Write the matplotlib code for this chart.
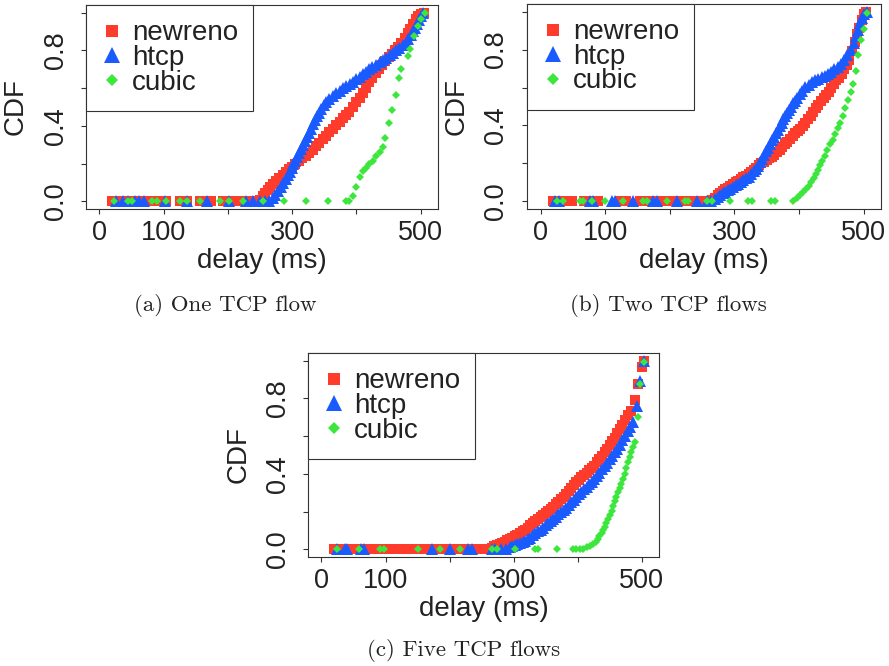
import matplotlib
matplotlib.use("Agg")
import matplotlib.pyplot as plt

# delay CDF for three TCP variants, one / two / five flows
delay_ticks = [0, 100, 200, 300, 400, 500]
delay_labels = ["0", "100", "", "300", "", "500"]
cdf_ticks = [0.0, 0.2, 0.4, 0.6, 0.8, 1.0]
cdf_labels = ["0.0", "", "0.4", "", "0.8", ""]
variants = ["newreno", "htcp", "cubic"]
captions = ["(a) One TCP flow", "(b) Two TCP flows", "(c) Five TCP flows"]

# (a) one flow. *_flat = delays lying at CDF ~0, *_rise = (delay, cdf)
a_newreno_flat = [20, 26, 32, 38, 44, 50, 56, 62, 68, 80, 86, 92, 98, 104, 125, 131, 137,
                  156, 162, 168, 174, 192, 198, 204, 210, 216, 222, 228, 234, 240, 245]
a_newreno_rise = [(250, 0.01), (254, 0.03), (258, 0.045), (262, 0.06), (266, 0.075), (270, 0.09),
                  (275, 0.107), (280, 0.124), (285, 0.14), (290, 0.155), (295, 0.17), (300, 0.184),
                  (305, 0.198), (310, 0.212), (316, 0.228), (321, 0.242), (326, 0.257), (332, 0.275),
                  (337, 0.292), (342, 0.31), (348, 0.33), (353, 0.348), (358, 0.367), (363, 0.385),
                  (368, 0.403), (374, 0.422), (379, 0.44), (384, 0.457), (389, 0.475), (395, 0.498),
                  (400, 0.525), (405, 0.55), (410, 0.575), (415, 0.60), (420, 0.63), (425, 0.655),
                  (430, 0.68), (435, 0.703), (440, 0.725), (445, 0.745), (450, 0.765), (455, 0.783),
                  (460, 0.80), (465, 0.82), (470, 0.84), (475, 0.865), (480, 0.89), (484, 0.915),
                  (488, 0.94), (492, 0.965), (496, 0.98), (500, 0.99), (505, 1.0)]
a_htcp_flat = [26, 36, 45, 55, 62, 70, 102, 136, 167, 202, 228, 239, 250, 258, 264]
a_htcp_rise = [(270, 0.02), (274, 0.035), (278, 0.055), (282, 0.075), (286, 0.10), (290, 0.12),
               (293, 0.14), (296, 0.158), (299, 0.176), (302, 0.196), (305, 0.216), (308, 0.236),
               (311, 0.257), (314, 0.278), (317, 0.299), (320, 0.32), (323, 0.342), (326, 0.364),
               (329, 0.386), (332, 0.408), (335, 0.43), (338, 0.45), (341, 0.47), (345, 0.49),
               (349, 0.51), (353, 0.527), (358, 0.545), (363, 0.56), (368, 0.573), (374, 0.587),
               (379, 0.60), (384, 0.61), (390, 0.624), (395, 0.635), (400, 0.646), (405, 0.66),
               (410, 0.673), (415, 0.686), (420, 0.70), (425, 0.712), (430, 0.725), (436, 0.738),
               (441, 0.75), (446, 0.762), (452, 0.776), (457, 0.788), (462, 0.80), (467, 0.812),
               (472, 0.826), (477, 0.84), (481, 0.86), (485, 0.88), (488, 0.90), (491, 0.92),
               (494, 0.94), (497, 0.96), (500, 0.98), (504, 1.0)]
a_cubic_flat = [23, 44, 50, 81, 89, 104, 125, 137, 156, 187, 202, 223, 254, 288, 322, 355, 384, 389]
a_cubic_rise = [(395, 0.028), (400, 0.078), (406, 0.13), (410, 0.16), (415, 0.178), (420, 0.196),
                (426, 0.214), (431, 0.24), (436, 0.261), (441, 0.289), (445, 0.337), (451, 0.413),
                (456, 0.483), (461, 0.566), (466, 0.651), (470, 0.699), (480, 0.77), (483, 0.805),
                (490, 0.876), (496, 0.929), (501, 0.965), (506, 1.0)]

# (b) two flows
b_newreno_flat = [19, 25, 31, 37, 43, 48, 68, 75, 82, 89, 123, 128, 133, 154, 161, 168, 175,
                  182, 190, 196, 200, 211, 217, 223, 229, 235, 241, 247, 253, 259]
b_newreno_rise = [(265, 0.005), (270, 0.02), (274, 0.033), (278, 0.046), (282, 0.055), (286, 0.064),
                  (290, 0.073), (294, 0.082), (298, 0.091), (302, 0.10), (306, 0.109), (310, 0.118),
                  (314, 0.127), (318, 0.136), (322, 0.145), (326, 0.155), (330, 0.166), (334, 0.178),
                  (338, 0.19), (342, 0.20), (346, 0.209), (350, 0.218), (354, 0.227), (358, 0.236),
                  (362, 0.247), (366, 0.26), (370, 0.272), (374, 0.285), (378, 0.30), (382, 0.315),
                  (386, 0.33), (390, 0.345), (394, 0.36), (398, 0.37), (402, 0.38), (406, 0.397),
                  (410, 0.415), (414, 0.432), (418, 0.45), (422, 0.47), (426, 0.49), (430, 0.51),
                  (434, 0.53), (438, 0.545), (442, 0.562), (446, 0.578), (450, 0.595), (454, 0.617),
                  (458, 0.64), (462, 0.652), (466, 0.672), (470, 0.695), (474, 0.72), (478, 0.745),
                  (482, 0.79), (486, 0.84), (490, 0.88), (493, 0.914), (497, 0.955), (500, 0.985),
                  (504, 1.0)]
b_htcp_flat = [22, 29, 76, 81, 110, 115, 143, 174, 180, 211, 242, 258, 264]
b_htcp_rise = [(270, 0.015), (274, 0.025), (278, 0.035), (282, 0.044), (286, 0.05), (290, 0.058),
               (294, 0.067), (298, 0.076), (302, 0.085), (306, 0.094), (310, 0.103), (314, 0.112),
               (318, 0.121), (322, 0.13), (326, 0.143), (330, 0.158), (334, 0.173), (337, 0.189),
               (340, 0.207), (343, 0.226), (346, 0.245), (349, 0.264), (352, 0.284), (355, 0.304),
               (358, 0.322), (361, 0.34), (364, 0.358), (367, 0.376), (370, 0.395), (373, 0.413),
               (376, 0.432), (379, 0.45), (382, 0.467), (385, 0.484), (388, 0.50), (391, 0.516),
               (394, 0.531), (397, 0.546), (401, 0.565), (405, 0.583), (410, 0.603), (415, 0.615),
               (420, 0.627), (425, 0.637), (430, 0.645), (435, 0.653), (440, 0.661), (445, 0.67),
               (450, 0.683), (455, 0.695), (460, 0.708), (465, 0.722), (470, 0.745), (475, 0.77),
               (480, 0.80), (485, 0.835), (488, 0.87), (491, 0.905), (494, 0.94), (497, 0.965),
               (501, 0.985), (505, 1.0)]
b_cubic_flat = [25, 34, 61, 65, 79, 99, 127, 158, 165, 196, 224, 228, 258, 265, 293, 321, 328,
                356, 363, 391]
b_cubic_rise = [(397, 0.02), (402, 0.035), (407, 0.05), (411, 0.065), (415, 0.08), (419, 0.10),
                (423, 0.125), (426, 0.145), (429, 0.165), (433, 0.19), (436, 0.215), (440, 0.24),
                (444, 0.27), (448, 0.30), (452, 0.325), (456, 0.355), (460, 0.385), (464, 0.415),
                (468, 0.45), (472, 0.49), (476, 0.535), (480, 0.575), (484, 0.62), (488, 0.685),
                (492, 0.77), (496, 0.85), (500, 0.91), (505, 0.99)]

# (c) five flows
c_newreno_flat = [19, 25, 31, 37, 43, 49, 55, 61, 67, 73, 79, 85, 91, 97, 103, 118, 124, 130,
                  136, 142, 154, 160, 166, 172, 178, 184, 190, 196, 202, 208, 214, 220, 226,
                  232, 238, 244, 250, 256]
c_newreno_rise = [(262, 0.004), (266, 0.01), (270, 0.016), (274, 0.022), (278, 0.028), (282, 0.033),
                  (286, 0.04), (290, 0.048), (294, 0.056), (298, 0.063), (302, 0.07), (306, 0.078),
                  (310, 0.087), (314, 0.096), (318, 0.105), (322, 0.115), (326, 0.127), (330, 0.14),
                  (334, 0.152), (338, 0.163), (342, 0.173), (346, 0.185), (350, 0.195), (354, 0.205),
                  (358, 0.214), (362, 0.224), (366, 0.238), (370, 0.252), (374, 0.265), (378, 0.279),
                  (382, 0.293), (386, 0.308), (390, 0.323), (394, 0.339), (398, 0.355), (402, 0.37),
                  (406, 0.383), (410, 0.395), (414, 0.407), (418, 0.418), (422, 0.43), (426, 0.444),
                  (430, 0.462), (434, 0.48), (438, 0.497), (442, 0.515), (446, 0.534), (450, 0.553),
                  (454, 0.572), (458, 0.592), (462, 0.614), (466, 0.636), (470, 0.66), (474, 0.686),
                  (478, 0.712), (483, 0.735), (489, 0.79), (494, 0.877), (501, 0.965), (504, 1.0)]
c_htcp_flat = [24, 37, 40, 61, 66, 172, 201, 229, 235, 266, 271, 280, 288]
c_htcp_rise = [(294, 0.012), (298, 0.018), (302, 0.024), (306, 0.03), (310, 0.036), (314, 0.042),
               (318, 0.047), (322, 0.053), (326, 0.063), (330, 0.075), (334, 0.086), (338, 0.096),
               (342, 0.104), (346, 0.116), (350, 0.128), (354, 0.139), (358, 0.151), (362, 0.162),
               (366, 0.174), (370, 0.186), (374, 0.198), (378, 0.21), (382, 0.222), (386, 0.235),
               (390, 0.249), (394, 0.263), (398, 0.277), (402, 0.291), (406, 0.305), (410, 0.318),
               (414, 0.332), (418, 0.345), (422, 0.358), (426, 0.373), (430, 0.39), (434, 0.407),
               (438, 0.424), (442, 0.441), (446, 0.458), (450, 0.477), (454, 0.496), (458, 0.515),
               (462, 0.534), (466, 0.555), (470, 0.577), (474, 0.60), (478, 0.625), (482, 0.648),
               (486, 0.674), (492, 0.762), (497, 0.894), (504, 1.0)]
c_cubic_flat = [24, 58, 92, 97, 151, 185, 216, 266, 274, 302, 333, 338, 367, 392, 398, 404]
c_cubic_rise = [(409, 0.005), (414, 0.012), (419, 0.02), (424, 0.03), (428, 0.042), (431, 0.056),
                (434, 0.07), (438, 0.085), (440, 0.105), (443, 0.118), (445, 0.14), (448, 0.162),
                (450, 0.185), (453, 0.206), (455, 0.23), (458, 0.259), (460, 0.28), (463, 0.303),
                (466, 0.325), (468, 0.347), (471, 0.375), (474, 0.40), (476, 0.43), (479, 0.462),
                (481, 0.49), (484, 0.515), (487, 0.54), (489, 0.568), (494, 0.70), (497, 0.876),
                (503, 0.99)]

panels = [
    [(a_newreno_flat, a_newreno_rise), (a_htcp_flat, a_htcp_rise), (a_cubic_flat, a_cubic_rise)],
    [(b_newreno_flat, b_newreno_rise), (b_htcp_flat, b_htcp_rise), (b_cubic_flat, b_cubic_rise)],
    [(c_newreno_flat, c_newreno_rise), (c_htcp_flat, c_htcp_rise), (c_cubic_flat, c_cubic_rise)],
]

colors = ["#ff3b2b", "#1a5bff", "#3ce63c"]
markers = ["s", "^", "D"]
msizes = [6.6, 8.2, 4.3]

W, H = 889, 666
# axes boxes in pixels: left, right, top, bottom
boxes = [(86, 438, 5, 209), (527, 881, 4, 209), (308, 659, 353, 557)]
cap_pos = [(225, 305), (668, 305), (464, 650)]

plt.rcParams["font.family"] = ["Liberation Sans", "DejaVu Sans"]
txt = "#222222"

fig = plt.figure(figsize=(W / 100, H / 100), dpi=100)
for k in range(3):
    l, r, t, b = boxes[k]
    ax = fig.add_axes([l / W, 1 - b / H, (r - l) / W, (b - t) / H])
    handles = []
    for j in range(3):
        flat, rise = panels[k][j]
        xs = list(flat) + [d for d, c in rise]
        ys = [0.0] * len(flat) + [c for d, c in rise]
        h, = ax.plot(xs, ys, linestyle="none", marker=markers[j], ms=msizes[j],
                     color=colors[j], mew=0, label=variants[j])
        handles.append(h)
    ax.set_xlim(-21, 527)
    ax.set_ylim(-0.04, 1.04)
    ax.set_xticks(delay_ticks)
    ax.set_xticklabels(delay_labels, fontsize=19.5, color=txt)
    ax.set_yticks(cdf_ticks)
    ax.set_yticklabels(cdf_labels, fontsize=19.5, color=txt, rotation=90, va="center", ha="right")
    ax.tick_params(axis="x", length=3.6, width=0.8, pad=4.5, color="#333333")
    ax.tick_params(axis="y", length=3.6, width=0.8, pad=9, color="#333333")
    for s in ax.spines.values():
        s.set_linewidth(0.8)
        s.set_color("#333333")
    ax.set_xlabel("delay (ms)", fontsize=20, color=txt)
    ax.xaxis.set_label_coords(0.5, -0.19)
    ax.set_ylabel("CDF", fontsize=20, color=txt, va="center")
    ax.yaxis.set_label_coords(-0.199, 0.5)
    leg = ax.legend(handles=handles, loc="upper left", bbox_to_anchor=(0, 1), borderaxespad=0,
                    fontsize=20, markerscale=1.4, handlelength=0.75, handletextpad=0.35,
                    borderpad=0.55, labelspacing=-0.05, fancybox=False, framealpha=1,
                    edgecolor="#333333")
    leg.get_frame().set_linewidth(0.8)
    for t_ in leg.get_texts():
        t_.set_color(txt)
    fig.text(cap_pos[k][0] / W, 1 - cap_pos[k][1] / H, captions[k], family="cmr10",
             fontsize=16.5, color=txt, ha="center", va="center")

fig.savefig("out.png", dpi=100)
